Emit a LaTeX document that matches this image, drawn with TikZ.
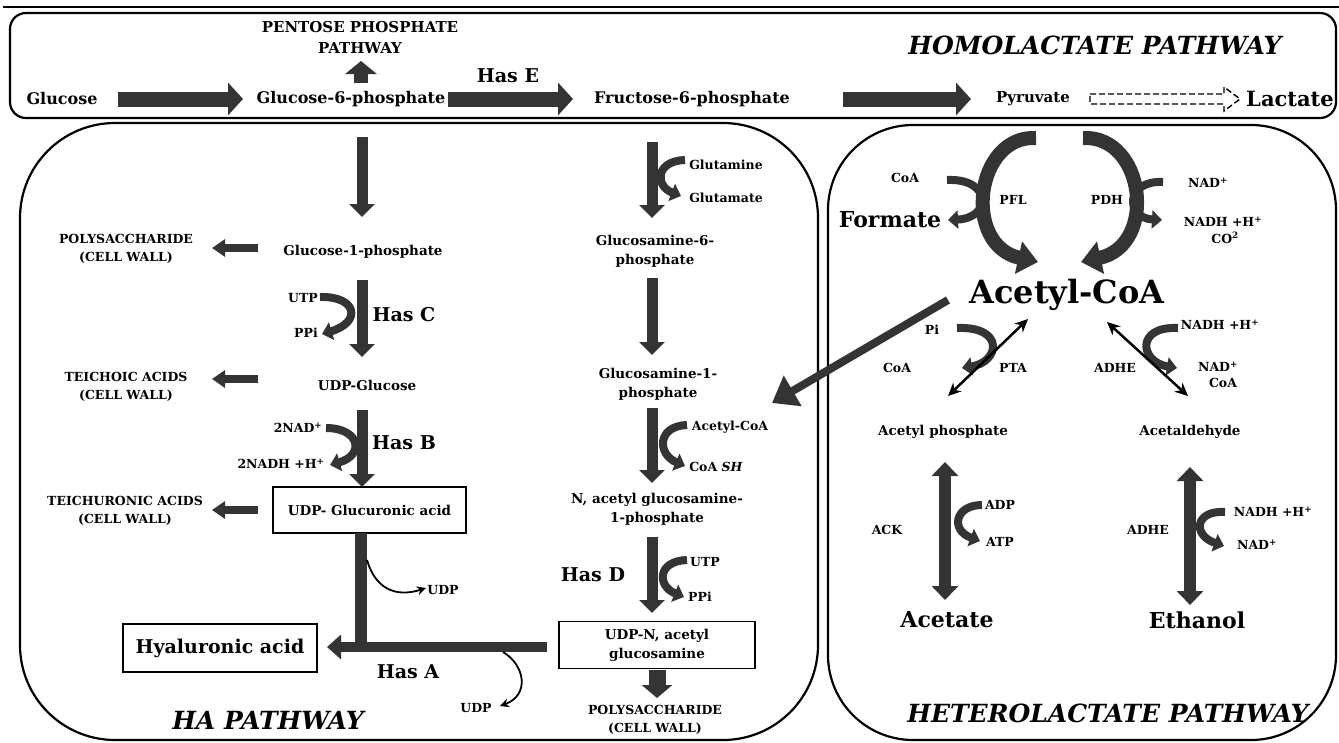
\documentclass[tikz,border=0pt]{standalone}
\usepackage{fontspec}
\setmainfont{DejaVu Serif}
\usetikzlibrary{arrows.meta}
\definecolor{arrowc}{RGB}{52,52,52}
\newcommand\myfs[1]{\fontsize{#1}{\dimexpr #1pt*14/10\relax}\selectfont}
\tikzset{
  lab/.style={inner sep=0pt, align=center, font=\bfseries\myfs{#1}},
  labr/.style={inner sep=0pt, align=center, font=\bfseries\myfs{#1}},
  ttl/.style={inner sep=0pt, font=\bfseries\itshape\myfs{#1}},
  panel/.style={draw=black, line width=2.2pt},
  boxed/.style={draw=black, line width=1.8pt},
  rowarrow/.style={draw=arrowc, line width=15pt, -{Triangle[length=15pt,width=32pt]}},
  downarrow/.style={draw=arrowc, line width=11pt, -{Triangle[length=13pt,width=25pt]}},
  sideleft/.style={draw=arrowc, line width=8pt, -{Triangle[length=13pt,width=17pt]}},
  curlarrow/.style={draw=arrowc, line width=8pt, -{Triangle[length=10pt,width=18pt]}},
  bigcurl/.style={draw=arrowc, line width=14pt, -{Triangle[length=20pt,width=32pt]}},
  fatdbl/.style={draw=arrowc, line width=12pt, {Triangle[length=14pt,width=26pt]}-{Triangle[length=14pt,width=26pt]}},
  thindbl/.style={draw=black, line width=2.5pt, {Stealth[length=13pt,width=12pt]}-{Stealth[length=13pt,width=12pt]}},
  udparrow/.style={draw=black, line width=1.8pt, -{Stealth[length=9pt,width=9pt]}},
  bigptr/.style={draw=arrowc, line width=8pt, -{Triangle[length=24pt,width=34pt]}}
}
\begin{document}
\begin{tikzpicture}[x=1pt,y=-1pt]
\useasboundingbox (0,0) rectangle (1339,742);
\fill[white] (0,0) rectangle (1339,742);

% ---------- frames ----------
\coordinate (tl1) at (3,7);
\coordinate (tl2) at (1339,7);
\draw[line width=1.5pt] (tl1) -- (tl2);
\draw[panel, rounded corners=16pt] (10,13) rectangle (1336,118);
\draw[panel, rounded corners=95pt] (20,123) rectangle (818,740);
\draw[panel, rounded corners=85pt] (828,125) rectangle (1336,740);

% ---------- homolactate row ----------
\node[lab=16] (glc) at (62,99) {Glucose};
\node[lab=16] (g6p) at (351,99) {Glucose-6-phosphate};
\node[lab=16] (f6p) at (692,99) {Fructose-6-phosphate};
\node[lab=15] (pyr) at (1033,99) {Pyruvate};
\node[lab=21] (lac) at (1290,99) {Lactate};
\node[inner sep=0pt, align=center, font=\bfseries\fontsize{15}{21}\selectfont] (ppp) at (360,37) {PENTOSE PHOSPHATE\\PATHWAY};
\node[labr=19] (hase) at (508,76) {Has E};
\node[ttl=25] (homo) at (1095,45) {HOMOLACTATE PATHWAY};

\coordinate (a1s) at (118,99); \coordinate (a1e) at (243,99);
\coordinate (a2s) at (448,99); \coordinate (a2e) at (573,99);
\coordinate (a3s) at (843,99); \coordinate (a3e) at (971,99);
\coordinate (pps) at (361,83); \coordinate (ppe) at (361,61);
\draw[rowarrow] (a1s) -- (a1e);
\draw[rowarrow] (a2s) -- (a2e);
\draw[rowarrow] (a3s) -- (a3e);
\draw[draw=arrowc, line width=14pt, -{Triangle[length=13pt,width=31pt]}] (pps) -- (ppe);
\draw[dash pattern=on 6pt off 3pt, line width=1.4pt] (1090,94) -- (1224,94) -- (1224,87) -- (1240,99) -- (1224,111) -- (1224,104) -- (1090,104) -- cycle;

% ---------- HA pathway, column 1 ----------
\node[lab=13.5] (g1p) at (363,252) {Glucose-1-phosphate};
\node[lab=13.5] (udpg) at (367,385) {UDP-Glucose};
\node[boxed, lab=13.5, minimum width=193pt, minimum height=46pt] (udpga) at (369.5,510) {UDP- Glucuronic acid};
\node[boxed, lab=19, line width=2pt, minimum width=194pt, minimum height=48pt] (ha) at (220,648) {Hyaluronic acid};

\node[lab=12.5] (poly1) at (126,249) {POLYSACCHARIDE\\(CELL WALL)};
\node[lab=12.5] (teich) at (126,387) {TEICHOIC ACIDS\\(CELL WALL)};
\node[lab=12.5] (teichu) at (125,511) {TEICHURONIC ACIDS\\(CELL WALL)};

\node[lab=12.5] (utp1) at (303,298) {UTP};
\node[lab=12.5] (ppi1) at (306,333) {PPi};
\node[lab=12.5] (nad0) at (298,428) {2NAD\textsuperscript{+}};
\node[lab=12.5] (nadh0) at (281,464) {2NADH +H\textsuperscript{+}};
\node[labr=19] (hasc) at (404,315) {Has C};
\node[labr=19] (hasb) at (404,443) {Has B};
\node[labr=19] (hasa) at (408,672) {Has A};
\node[ttl=25] (hap) at (268,720) {HA PATHWAY};

\coordinate (c1a) at (362,137); \coordinate (c1b) at (362,217);
\coordinate (c1c) at (362,280); \coordinate (c1d) at (362,357);
\coordinate (c1e) at (362,410); \coordinate (c1f) at (362,487);
\draw[downarrow] (c1a) -- (c1b);
\draw[downarrow] (c1c) -- (c1d);
\draw[downarrow] (c1e) -- (c1f);

\coordinate (s1a) at (258,248); \coordinate (s1b) at (212,248);
\coordinate (s2a) at (258,379); \coordinate (s2b) at (212,379);
\coordinate (s3a) at (258,510); \coordinate (s3b) at (212,510);
\draw[sideleft] (s1a) -- (s1b);
\draw[sideleft] (s2a) -- (s2b);
\draw[sideleft] (s3a) -- (s3b);

\coordinate (hc1) at (320,297); \coordinate (hc2) at (322,334);
\draw[curlarrow] (hc1) .. controls (357,296) and (362,322) .. (hc2);
\coordinate (hb1) at (326,428); \coordinate (hb2) at (330,465);
\draw[curlarrow] (hb1) .. controls (360,428) and (365,455) .. (hb2);

\coordinate (vb1) at (361,533); \coordinate (vb2) at (361,652);
\draw[draw=arrowc, line width=12pt] (vb1) -- (vb2);
\coordinate (barR) at (547,647); \coordinate (barL) at (327,647);
\draw[draw=arrowc, line width=10pt, -{Triangle[length=14pt,width=24pt]}] (barR) -- (barL);

\node[lab=12.5] (udp1) at (443,590) {UDP};
\node[lab=12.5] (udp2) at (476,708) {UDP};
\coordinate (u1s) at (367,560); \coordinate (u1e) at (426,588);
\draw[udparrow] (u1s) .. controls (375,588) and (395,598) .. (u1e);
\coordinate (u2s) at (503,652); \coordinate (u2e) at (500,706);
\draw[udparrow] (u2s) .. controls (525,665) and (530,695) .. (u2e);

% ---------- HA pathway, column 2 ----------
\node[lab=13.5] (gn6p) at (655,251) {Glucosamine-6-\\phosphate};
\node[lab=13.5] (gn1p) at (658,384) {Glucosamine-1-\\phosphate};
\node[lab=13.5] (nag1p) at (657,509) {N, acetyl glucosamine-\\1-phosphate};
\node[boxed, lab=13.5, minimum width=196pt, minimum height=47pt] (udpn) at (657,645) {UDP-N, acetyl\\glucosamine};
\node[lab=12.5] (poly2) at (655,720) {POLYSACCHARIDE\\(CELL WALL)};
\node[lab=12.5] (gln) at (726,165) {Glutamine};
\node[lab=12.5] (glu) at (726,198) {Glutamate};
\node[lab=12.5] (acoa2) at (730,427) {Acetyl-CoA};
\node[lab=12.5] (coash) at (716,467) {CoA \textit{SH}};
\node[lab=12.5] (utp2) at (705,562) {UTP};
\node[lab=12.5] (ppi2) at (700,597) {PPi};
\node[labr=19] (hasd) at (593,575) {Has D};

\coordinate (c2a) at (652,142); \coordinate (c2b) at (652,218);
\coordinate (c2c) at (652,278); \coordinate (c2d) at (652,355);
\coordinate (c2e) at (652,408); \coordinate (c2f) at (652,483);
\coordinate (c2g) at (652,537); \coordinate (c2h) at (652,613);
\coordinate (c2i) at (657,670); \coordinate (c2j) at (657,698);
\draw[downarrow] (c2a) -- (c2b);
\draw[downarrow] (c2c) -- (c2d);
\draw[downarrow] (c2e) -- (c2f);
\draw[downarrow] (c2g) -- (c2h);
\draw[draw=arrowc, line width=17pt, -{Triangle[length=13pt,width=30pt]}] (c2i) -- (c2j);

\coordinate (gq1) at (685,160); \coordinate (gq2) at (681,196);
\draw[curlarrow] (gq1) .. controls (655,161) and (655,186) .. (gq2);
\coordinate (ac1a) at (687,425); \coordinate (ac1b) at (685,466);
\draw[curlarrow] (ac1a) .. controls (657,426) and (657,454) .. (ac1b);
\coordinate (ut1) at (687,560); \coordinate (ut2) at (684,597);
\draw[curlarrow] (ut1) .. controls (657,561) and (657,586) .. (ut2);

% ---------- heterolactate ----------
\node[lab=12.5] (coa1) at (905,178) {CoA};
\node[lab=22] (form) at (890,220) {Formate};
\node[lab=12.5] (pfl) at (1013,200) {PFL};
\node[lab=12.5] (pdh) at (1107,200) {PDH};
\node[lab=12.5] (nad1) at (1208,183) {NAD\textsuperscript{+}};
\node[lab=12.5] (nadh1) at (1223,222) {NADH +H\textsuperscript{+}};
\node[lab=12.5] (co2) at (1225,238) {CO\textsuperscript{2}};
\node[lab=32] (acoa) at (1067,295) {Acetyl-CoA};
\node[lab=12.5] (pi) at (932,330) {Pi};
\node[lab=12.5] (coa2) at (897,368) {CoA};
\node[lab=12.5] (pta) at (1013,368) {PTA};
\node[lab=12.5] (adhe1) at (1115,368) {ADHE};
\node[lab=12.5] (nadh2) at (1220,325) {NADH +H\textsuperscript{+}};
\node[lab=12.5] (nad2) at (1218,367) {NAD\textsuperscript{+}};
\node[lab=12.5] (coa3) at (1223,383) {CoA};
\node[lab=13.5] (acp) at (943,432) {Acetyl phosphate};
\node[lab=13.5] (acald) at (1190,432) {Acetaldehyde};
\node[lab=12.5] (ack) at (887,530) {ACK};
\node[lab=12.5] (adp) at (1000,505) {ADP};
\node[lab=12.5] (atp) at (1000,542) {ATP};
\node[lab=22] (acet) at (947,620) {Acetate};
\node[lab=12.5] (adhe2) at (1148,530) {ADHE};
\node[lab=12.5] (nadh3) at (1273,512) {NADH +H\textsuperscript{+}};
\node[lab=12.5] (nad3) at (1257,545) {NAD\textsuperscript{+}};
\node[lab=22] (eth) at (1197,620) {Ethanol};
\node[ttl=25] (hetero) at (1108,713) {HETEROLACTATE PATHWAY};

\coordinate (pfl1) at (1036,138); \coordinate (pfl2) at (1038,262);
\draw[bigcurl] (pfl1) .. controls (975,135) and (962,245) .. (pfl2);
\coordinate (pdh1) at (1083,138); \coordinate (pdh2) at (1081,262);
\draw[bigcurl] (pdh1) .. controls (1145,135) and (1158,245) .. (pdh2);

\coordinate (cf1) at (947,180); \coordinate (cf2) at (948,220);
\draw[curlarrow] (cf1) .. controls (992,178) and (992,218) .. (cf2);
\coordinate (cn1) at (1163,182); \coordinate (cn2) at (1162,220);
\draw[curlarrow] (cn1) .. controls (1125,180) and (1125,218) .. (cn2);
\coordinate (cp1) at (957,328); \coordinate (cp2) at (962,368);
\draw[curlarrow] (cp1) .. controls (1005,326) and (1000,362) .. (cp2);
\coordinate (ca1) at (1178,328); \coordinate (ca2) at (1177,368);
\draw[curlarrow] (ca1) .. controls (1135,326) and (1140,362) .. (ca2);
\coordinate (ck1) at (982,505); \coordinate (ck2) at (980,541);
\draw[curlarrow] (ck1) .. controls (955,505) and (950,530) .. (ck2);
\coordinate (ce1) at (1225,512); \coordinate (ce2) at (1224,546);
\draw[curlarrow] (ce1) .. controls (1195,510) and (1192,535) .. (ce2);

\coordinate (pt1) at (948,396); \coordinate (pt2) at (1028,319);
\draw[thindbl] (pt1) -- (pt2);
\coordinate (ad1) at (1107,322); \coordinate (ad2) at (1188,396);
\draw[thindbl] (ad1) -- (ad2);

\coordinate (ka) at (945,462); \coordinate (kb) at (945,600);
\draw[fatdbl] (ka) -- (kb);
\coordinate (ea) at (1190,467); \coordinate (eb) at (1190,605);
\draw[fatdbl] (ea) -- (eb);

\coordinate (ptr1) at (948,300); \coordinate (ptr2) at (772,403);
\draw[bigptr] (ptr1) -- (ptr2);
\end{tikzpicture}
\end{document}
